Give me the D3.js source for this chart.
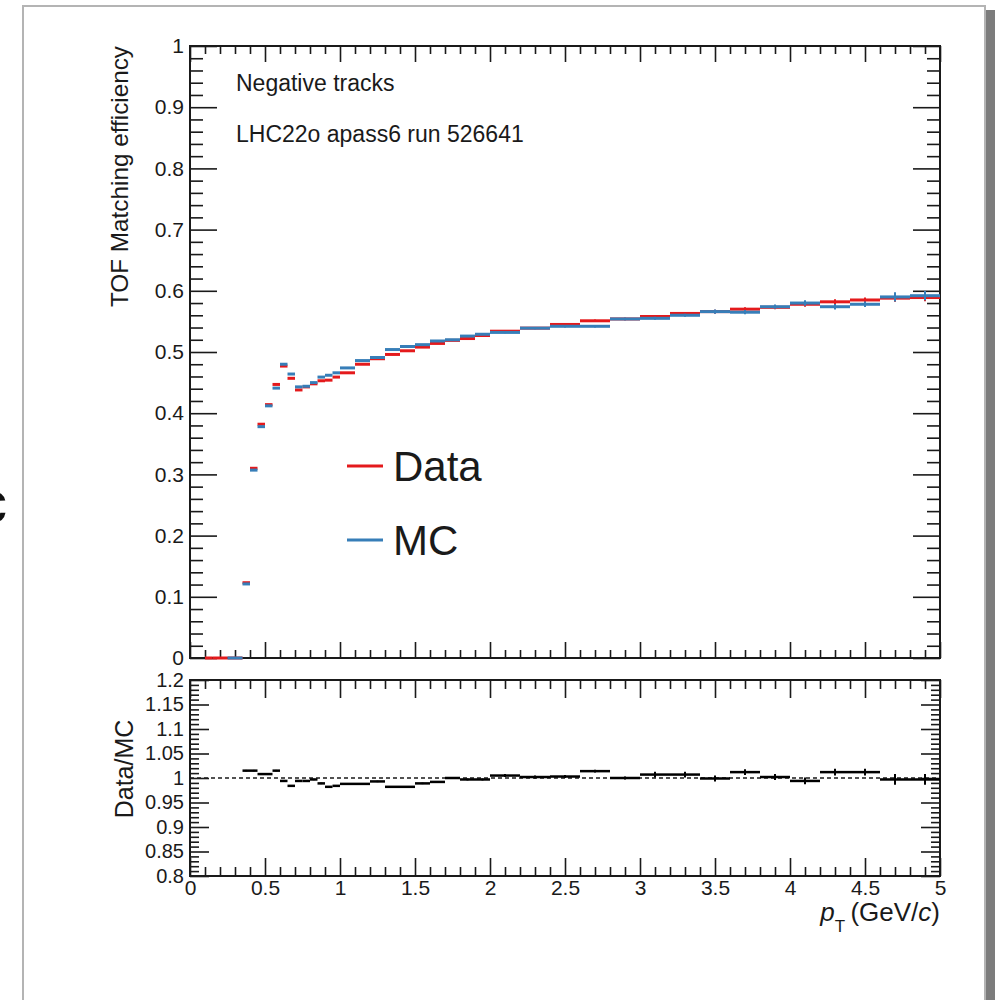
<!DOCTYPE html>
<html>
<head>
<meta charset="utf-8">
<script src="https://cdn.jsdelivr.net/npm/d3@7"></script>
<style>
  html, body { margin: 0; padding: 0; background: #fff; }
  svg { display: block; font-family: "Liberation Sans", Arial, Helvetica, sans-serif; }
</style>
</head>
<body>
<svg id="canvas" width="995" height="1000"></svg>
<script>
// pT bin edges (GeV/c)
const binEdges = [
  0.10, 0.15, 0.20, 0.25, 0.30, 0.35, 0.40, 0.45, 0.50, 0.55, 0.60, 0.65, 0.70, 0.75,
  0.80, 0.85, 0.90, 0.95, 1.00, 1.10, 1.20, 1.30, 1.40, 1.50, 1.60, 1.70, 1.80, 1.90,
  2.00, 2.20, 2.40, 2.60, 2.80, 3.00, 3.20, 3.40, 3.60, 3.80, 4.00, 4.20, 4.40, 4.60,
  4.80, 5.00
];

// TOF matching efficiency, data (null = empty bin)
const dataEff = [
  0, 0, 0, 0, 0, 0.123, 0.310, 0.382, 0.414, 0.447, 0.477, 0.457, 0.438, 0.443,
  0.448, 0.453, 0.454, 0.459, 0.466, 0.480, 0.489, 0.496, 0.502, 0.508, 0.514, 0.519,
  0.522, 0.527, 0.534, 0.539, 0.545, 0.551, 0.554, 0.558, 0.563, 0.566, 0.570, 0.573,
  0.578, 0.582, 0.585, 0.588, 0.589
];
const dataErr = [
  0, 0, 0, 0, 0, 0.001, 0.001, 0.001, 0.001, 0.001, 0.001, 0.001, 0.001, 0.001,
  0.001, 0.001, 0.001, 0.001, 0.001, 0.001, 0.001, 0.001, 0.001, 0.001, 0.001, 0.001,
  0.001, 0.001, 0.0015, 0.0015, 0.0015, 0.002, 0.002, 0.002, 0.002, 0.003, 0.003, 0.003,
  0.004, 0.004, 0.004, 0.006, 0.006
];

// TOF matching efficiency, MC
const mcEff = [
  null, null, null, 0, 0, 0.121, 0.307, 0.378, 0.412, 0.441, 0.480, 0.464, 0.443, 0.444,
  0.450, 0.459, 0.462, 0.466, 0.474, 0.486, 0.491, 0.504, 0.509, 0.512, 0.518, 0.520,
  0.526, 0.529, 0.532, 0.539, 0.542, 0.542, 0.554, 0.555, 0.560, 0.566, 0.565, 0.574,
  0.580, 0.574, 0.578, 0.590, 0.592
];
const mcErr = [
  0, 0, 0, 0, 0, 0.001, 0.001, 0.001, 0.001, 0.001, 0.001, 0.001, 0.001, 0.001,
  0.001, 0.001, 0.001, 0.001, 0.001, 0.001, 0.001, 0.001, 0.001, 0.001, 0.001, 0.001,
  0.001, 0.001, 0.0015, 0.002, 0.002, 0.002, 0.002, 0.0025, 0.0025, 0.0035, 0.0035, 0.0035,
  0.0045, 0.0045, 0.0045, 0.0075, 0.0075
];

// Data/MC ratio (null = not computed)
const ratioVal = [
  null, null, null, null, null, 1.015, 1.015, 1.008, 1.008, 1.015, 0.994, 0.984, 0.994, 0.994,
  0.997, 0.989, 0.982, 0.984, 0.988, 0.988, 0.993, 0.982, 0.982, 0.989, 0.992, 1.000,
  0.997, 0.997, 1.005, 1.002, 1.003, 1.014, 1.000, 1.007, 1.007, 0.999, 1.012, 1.002,
  0.994, 1.012, 1.012, 0.997, 0.997
];
const ratioErr = [
  0, 0, 0, 0, 0, 0.0015, 0.0015, 0.0015, 0.0015, 0.0015, 0.0015, 0.0015, 0.0015, 0.0015,
  0.0015, 0.0015, 0.0015, 0.0015, 0.0015, 0.0015, 0.0015, 0.0015, 0.0015, 0.0015, 0.0015, 0.002,
  0.002, 0.002, 0.003, 0.003, 0.003, 0.003, 0.003, 0.006, 0.006, 0.006, 0.006, 0.006,
  0.007, 0.007, 0.007, 0.011, 0.011
];

// Axis ticks
const effTicks = [0, 0.1, 0.2, 0.3, 0.4, 0.5, 0.6, 0.7, 0.8, 0.9, 1];
const ratioTicks = [0.8, 0.85, 0.9, 0.95, 1, 1.05, 1.1, 1.15, 1.2];
const ptTicks = [0, 0.5, 1, 1.5, 2, 2.5, 3, 3.5, 4, 4.5, 5];

const seriesNames = ["Data", "MC"];
const seriesColors = ["#e41a1c", "#377eb8"];

const topTexts = ["Negative tracks", "LHC22o apass6 run 526641"];

// ---------- layout ----------
const X0 = 190, X1 = 940;
const TOP_Y0 = 46, TOP_Y1 = 658;
const RAT_Y0 = 680, RAT_Y1 = 876;
const INK = "#1a1a1a";

const svg = d3.select("#canvas");

// page sheet with a shadow along its right side
svg.append("rect").attr("x", 986).attr("y", 10).attr("width", 9).attr("height", 1000)
  .attr("fill", "#7c7c7c");
svg.append("rect").attr("x", 23).attr("y", 6).attr("width", 962).attr("height", 1010)
  .attr("fill", "#fff").attr("stroke", "#b4b4b4").attr("stroke-width", 2);

// partial glyph at the left margin
svg.append("text").attr("x", -22).attr("y", 522).attr("font-size", 58)
  .attr("fill", "#111").text("c");

const x = d3.scaleLinear().domain([0, 5]).range([X0, X1]);
const yEff = d3.scaleLinear().domain([0, 1]).range([TOP_Y1, TOP_Y0]);
const yRat = d3.scaleLinear().domain([0.8, 1.2]).range([RAT_Y1, RAT_Y0]);

const minorRange = (a, b, step) => d3.range(Math.round((b - a) / step) + 1).map(i => +(a + i * step).toFixed(4));
const effMinor = minorRange(0, 1, 0.02).filter(v => !effTicks.some(t => Math.abs(t - v) < 1e-6));
const ratMinor = minorRange(0.8, 1.2, 0.01).filter(v => !ratioTicks.some(t => Math.abs(t - v) < 1e-6));
const ptMinor = minorRange(0, 5, 0.1).filter(v => !ptTicks.some(t => Math.abs(t - v) < 1e-6));

function styleAxis(g, fontSize) {
  g.select(".domain").remove();
  g.selectAll(".tick line").attr("stroke", INK).attr("stroke-width", 1.6);
  g.selectAll(".tick text").attr("fill", INK).attr("font-size", fontSize)
    .attr("font-family", "Liberation Sans, Arial, sans-serif");
}

function panelAxes(yScale, y0, y1, majors, minors, yMajLen, yMinLen, xMajLen, xMinLen, yFmt, ySize, showX) {
  // left
  svg.append("g").attr("transform", `translate(${X0},0)`)
    .call(d3.axisLeft(yScale).tickValues(majors).tickSizeInner(-yMajLen).tickSizeOuter(0)
      .tickPadding(6).tickFormat(yFmt))
    .call(g => styleAxis(g, ySize));
  svg.append("g").attr("transform", `translate(${X0},0)`)
    .call(d3.axisLeft(yScale).tickValues(minors).tickSizeInner(-yMinLen).tickSizeOuter(0).tickFormat(""))
    .call(g => styleAxis(g, ySize));
  // right
  svg.append("g").attr("transform", `translate(${X1},0)`)
    .call(d3.axisRight(yScale).tickValues(majors).tickSizeInner(-yMajLen).tickSizeOuter(0).tickFormat(""))
    .call(g => styleAxis(g, ySize));
  svg.append("g").attr("transform", `translate(${X1},0)`)
    .call(d3.axisRight(yScale).tickValues(minors).tickSizeInner(-yMinLen).tickSizeOuter(0).tickFormat(""))
    .call(g => styleAxis(g, ySize));
  // bottom
  svg.append("g").attr("transform", `translate(0,${y1})`)
    .call(d3.axisBottom(x).tickValues(ptTicks).tickSizeInner(-xMajLen).tickSizeOuter(0)
      .tickPadding(showX ? 4 : 0).tickFormat(showX ? d3.format("~g") : ""))
    .call(g => styleAxis(g, 21));
  svg.append("g").attr("transform", `translate(0,${y1})`)
    .call(d3.axisBottom(x).tickValues(ptMinor).tickSizeInner(-xMinLen).tickSizeOuter(0).tickFormat(""))
    .call(g => styleAxis(g, 21));
  // top
  svg.append("g").attr("transform", `translate(0,${y0})`)
    .call(d3.axisTop(x).tickValues(ptTicks).tickSizeInner(-xMajLen).tickSizeOuter(0).tickFormat(""))
    .call(g => styleAxis(g, 21));
  svg.append("g").attr("transform", `translate(0,${y0})`)
    .call(d3.axisTop(x).tickValues(ptMinor).tickSizeInner(-xMinLen).tickSizeOuter(0).tickFormat(""))
    .call(g => styleAxis(g, 21));
  // frame
  svg.append("rect").attr("x", X0).attr("y", y0).attr("width", X1 - X0).attr("height", y1 - y0)
    .attr("fill", "none").attr("stroke", INK).attr("stroke-width", 2);
}

panelAxes(yEff, TOP_Y0, TOP_Y1, effTicks, effMinor, 27, 13, 16, 8, d3.format("~g"), 21, false);
panelAxes(yRat, RAT_Y0, RAT_Y1, ratioTicks, ratMinor, 19, 9, 18, 9, d3.format("~g"), 20, true);

// ---------- histograms ----------
const bins = d3.range(binEdges.length - 1).map(i => ({ lo: binEdges[i], hi: binEdges[i + 1] }));

function drawHist(values, errors, yScale, color, width, errWidth) {
  const g = svg.append("g");
  const pts = bins.map((b, i) => ({ ...b, v: values[i], e: errors[i] })).filter(d => d.v !== null);
  g.selectAll("line.h").data(pts).join("line")
    .attr("x1", d => x(d.lo)).attr("x2", d => x(d.hi))
    .attr("y1", d => yScale(d.v)).attr("y2", d => yScale(d.v))
    .attr("stroke", color).attr("stroke-width", width);
  g.selectAll("line.v").data(pts.filter(d => d.e > 0)).join("line")
    .attr("x1", d => x((d.lo + d.hi) / 2)).attr("x2", d => x((d.lo + d.hi) / 2))
    .attr("y1", d => yScale(d.v - d.e)).attr("y2", d => yScale(d.v + d.e))
    .attr("stroke", color).attr("stroke-width", errWidth);
}

drawHist(dataEff, dataErr, yEff, seriesColors[0], 3, 2);
drawHist(mcEff, mcErr, yEff, seriesColors[1], 3, 2);

// reference line at unity
svg.append("line").attr("x1", X0).attr("x2", X1).attr("y1", yRat(1)).attr("y2", yRat(1))
  .attr("stroke", INK).attr("stroke-width", 1.3).attr("stroke-dasharray", "4,3");
drawHist(ratioVal, ratioErr, yRat, "#000", 2.5, 2);

// ---------- text ----------
svg.append("text").attr("x", 236).attr("y", 91).attr("font-size", 23).attr("fill", INK).text(topTexts[0]);
svg.append("text").attr("x", 236).attr("y", 142).attr("font-size", 23).attr("fill", INK).text(topTexts[1]);

// legend
const legendY = [466, 540];
seriesNames.forEach((name, i) => {
  svg.append("line").attr("x1", 347).attr("x2", 383).attr("y1", legendY[i]).attr("y2", legendY[i])
    .attr("stroke", seriesColors[i]).attr("stroke-width", 3);
  svg.append("text").attr("x", 393).attr("y", legendY[i] + 15).attr("font-size", 42)
    .attr("fill", INK).text(name);
});

// axis titles
svg.append("text").attr("transform", `translate(128,${TOP_Y0}) rotate(-90)`)
  .attr("text-anchor", "end").attr("font-size", 24.3).attr("fill", INK).text("TOF Matching efficiency");
svg.append("text").attr("transform", `translate(133,${(RAT_Y0 + RAT_Y1) / 2 - 9}) rotate(-90)`)
  .attr("text-anchor", "middle").attr("font-size", 25).attr("fill", INK).text("Data/MC");

const xt = svg.append("text").attr("x", X1).attr("y", 921).attr("text-anchor", "end")
  .attr("font-size", 26).attr("fill", INK);
xt.append("tspan").attr("font-style", "italic").text("p");
xt.append("tspan").attr("font-size", 17).attr("dy", 11).text("T");
xt.append("tspan").attr("dy", -11).text("\u2009(GeV/");
xt.append("tspan").attr("font-style", "italic").text("c");
xt.append("tspan").text(")");
</script>
</body>
</html>
